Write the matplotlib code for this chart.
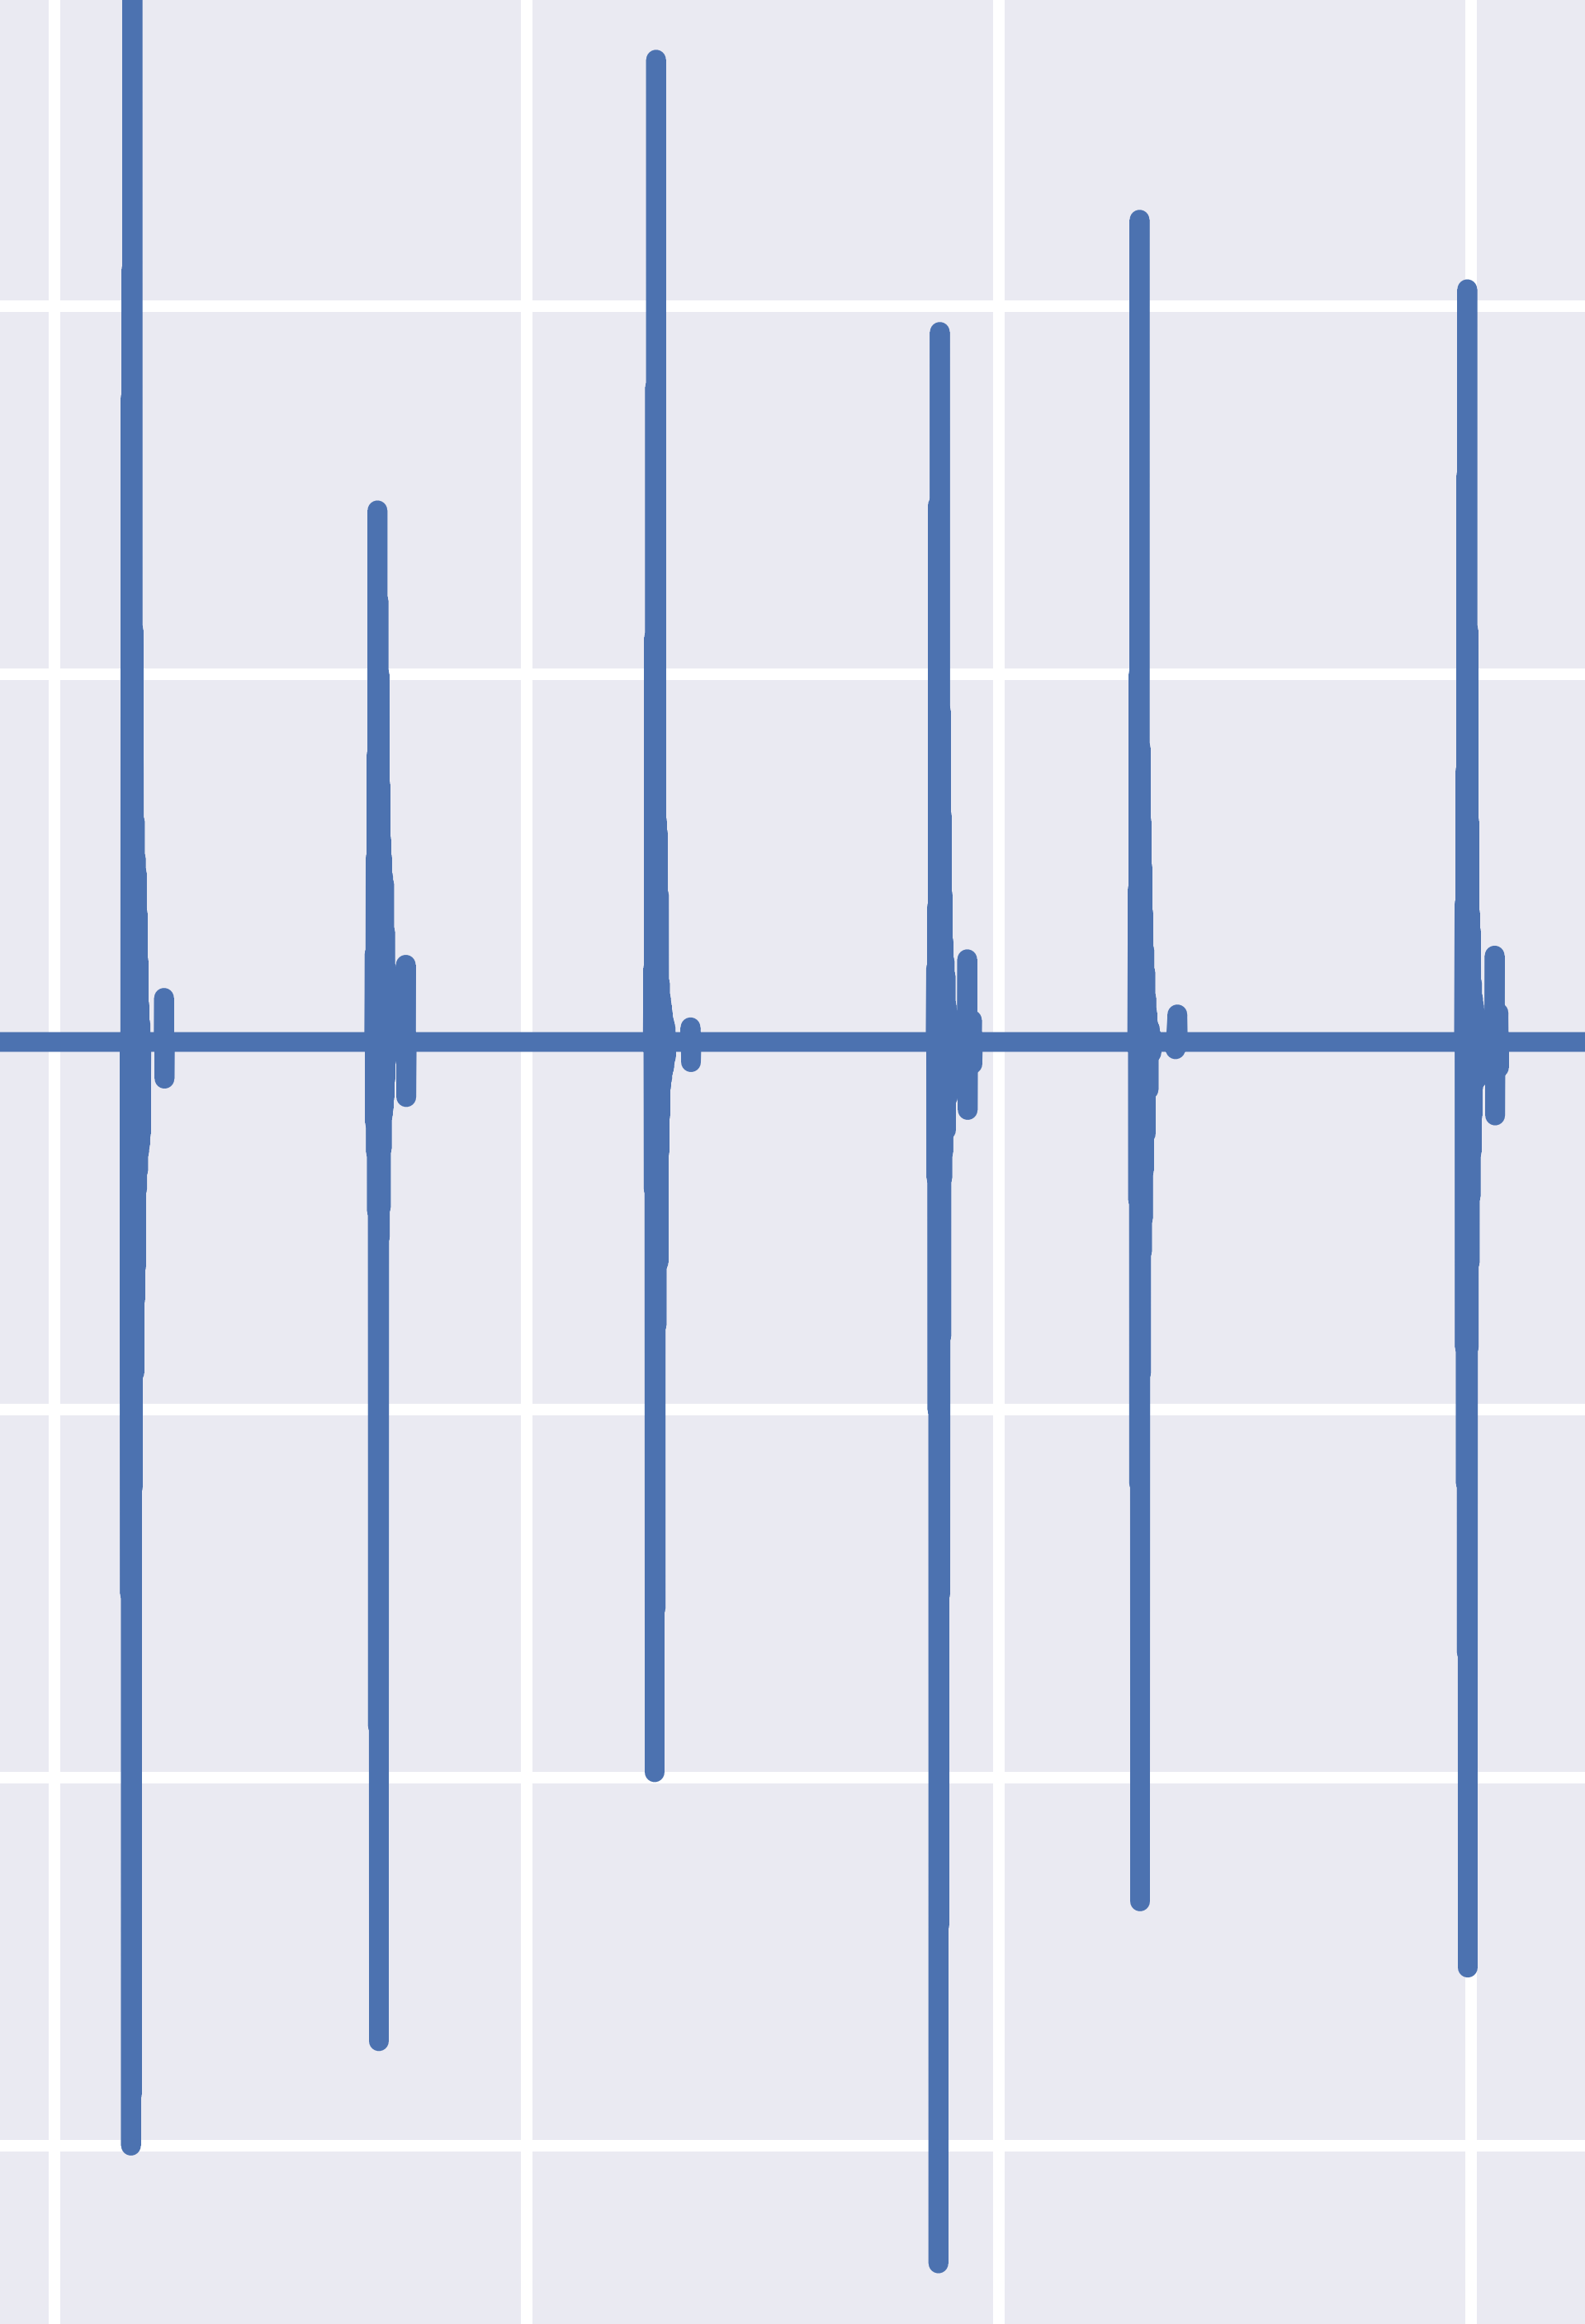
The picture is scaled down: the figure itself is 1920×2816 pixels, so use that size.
import numpy as np
import matplotlib
matplotlib.use("Agg")
import matplotlib.pyplot as plt
import seaborn as sns

# sampling of the trace (samples per x unit) and covered span
fs = 1000
t_start, t_end = -0.13, 3.26

# main bursts: onset (x units) and consecutive sample values
burst_onsets = [0.1603, 0.6778, 1.2684, 1.8671, 2.2937, 2.9860]
burst_1 = [-1.5, 1.75, -3.0, 2.1, -2.86, 3.3, -1.21, 1.12, 0.74, -0.9, 0.6, -0.7,
           0.5, -0.61, 0.46, -0.4, 0.35, -0.35, 0.22, -0.3, 0.1, -0.28, 0.05, -0.25, 0.0]
burst_2 = [0.24, -0.22, 0.5, -0.3, 0.78, -0.46, 1.445, -1.86, 1.2, -2.716, 1.0, -0.53,
           0.7, -0.45, 0.55, -0.29, 0.5, -0.2, 0.45, -0.18, 0.43, -0.15, 0.3, -0.1,
           0.2, -0.05, 0.1, -0.03, 0.0]
burst_3 = [0.2, -0.4, 1.1, -1.985, 1.78, -1.54, 2.67, -0.77, 0.6, -0.6, 0.567, -0.6,
           0.4, -0.3, 0.16, -0.2, 0.12, -0.12, 0.1, -0.1, 0.08, -0.08, 0.06, -0.07,
           0.05, -0.05, 0.04, -0.04, 0.0]
burst_4 = [0.2, -0.37, 0.367, -1.0, 1.46, -3.32, 1.0, -2.4, 1.93, -1.5, 0.9, -0.8,
           0.616, -0.37, 0.4, -0.3, 0.272, -0.24, 0.22, -0.2, 0.18, -0.24, 0.1, -0.15,
           0.08, -0.15, 0.05, -0.06, 0.0]
burst_5 = [0.415, -0.43, 1.0, -1.2, 2.235, -2.336, 0.8, -0.9, 0.6, -0.57, 0.475, -0.48,
           0.35, -0.35, 0.25, -0.25, 0.19, -0.25, 0.12, -0.13, 0.08, -0.13, 0.05, -0.13,
           0.04, -0.03, 0.035, -0.03, 0.02, -0.03, 0.0]
burst_6 = [0.375, -0.83, 0.737, -1.2, 1.54, -1.66, 2.046, -2.516, 1.12, -0.83, 0.6, -0.6,
           0.35, -0.42, 0.3, -0.3, 0.16, -0.2, 0.12, -0.12, 0.1, -0.1, 0.08, -0.08,
           0.05, -0.1, 0.03, -0.1, 0.0]
bursts = [burst_1, burst_2, burst_3, burst_4, burst_5, burst_6]

# small after-ripples following each burst
ripple_onsets = [0.2320, 0.7437, 1.3474, 1.9330, 1.9434, 2.3741, 3.0497, 3.0577]
ripples = [[0.12, -0.1], [0.21, -0.15], [0.04, -0.055], [0.225, -0.185], [0.06, -0.06],
           [-0.02, 0.01, 0.03, 0.05, 0.075], [0.235, -0.2], [0.08, -0.07]]

t = np.arange(round(t_start * fs), round(t_end * fs)) / fs
signal = np.zeros_like(t)
for onset, vals in list(zip(burst_onsets, bursts)) + list(zip(ripple_onsets, ripples)):
    i0 = int(round((onset - t_start) * fs))
    signal[i0:i0 + len(vals)] = vals

sns.set_style("darkgrid")
plt.rcParams["lines.solid_capstyle"] = "round"
plt.rcParams["lines.solid_joinstyle"] = "round"

fig = plt.figure(figsize=(19.2, 28.16), dpi=100)
ax = fig.add_axes([0, 0, 1, 1])
ax.plot(t, signal, color="#4C72B0", linewidth=17.2)

ax.set_xlim(-0.1154, 3.2413)
ax.set_ylim(-3.4845, 2.832)
ax.set_xticks([0, 1, 2, 3])
ax.set_yticks([-3, -2, -1, 0, 1, 2])
ax.tick_params(labelbottom=False, labelleft=False, length=0)
ax.grid(True, color="white", linewidth=10.1)
for s in ax.spines.values():
    s.set_visible(False)

fig.savefig("out.png", dpi=100)
